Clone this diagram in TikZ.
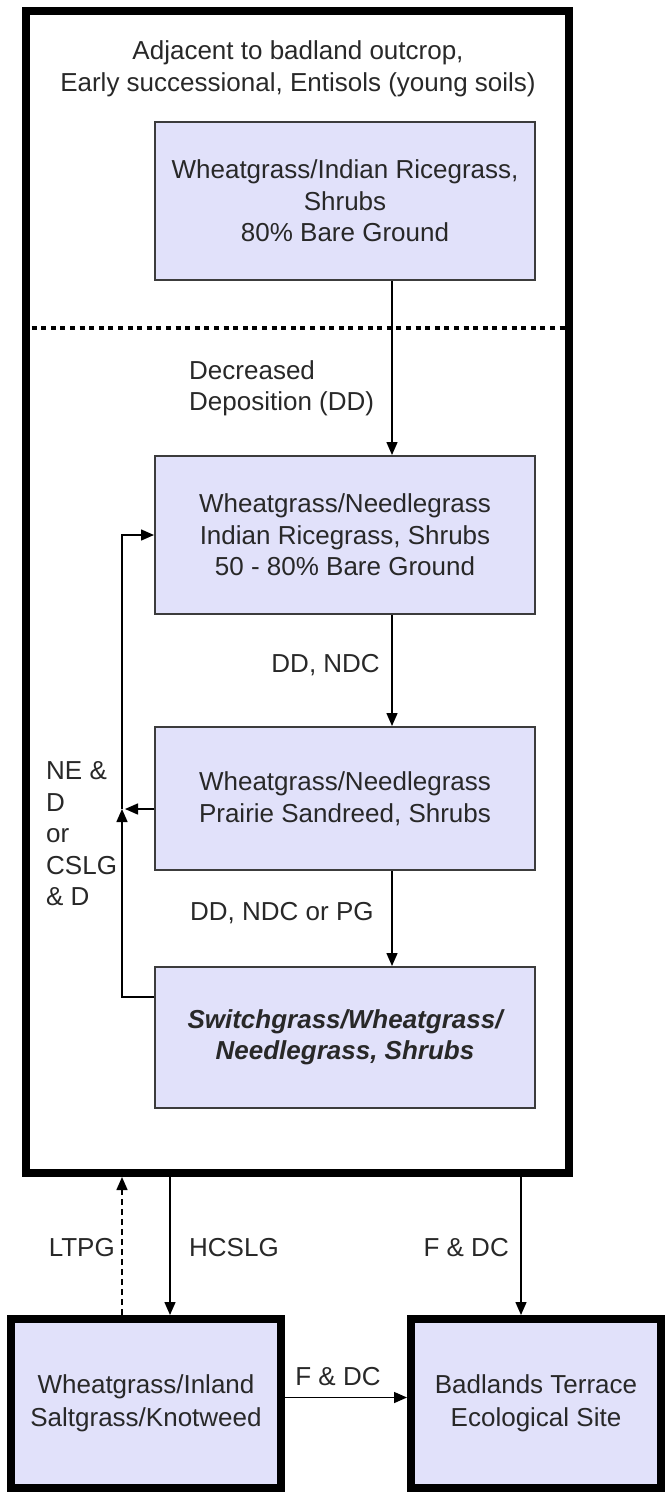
\documentclass[tikz,border=0pt]{standalone}
\usepackage{fontspec}
\setmainfont{Liberation Sans}
\usetikzlibrary{arrows.meta}
\definecolor{lavande}{RGB}{225,225,250}
\definecolor{bord}{RGB}{60,60,60}
\definecolor{texte}{RGB}{40,40,40}

\begin{document}
\begin{tikzpicture}[x=1pt,y=-1pt]
\tikzset{boite/.style={draw=bord, line width=2pt, fill=lavande, minimum width=380pt, align=center, text=texte, font=\fontsize{26}{31.5}\selectfont},
grosboite/.style={draw=black, line width=8pt, fill=lavande, minimum height=169pt, align=center, text=texte, font=\fontsize{26}{33}\selectfont},
etiq/.style={inner sep=0pt, text=texte, font=\fontsize{26}{31.5}\selectfont},
fleche/.style={-{Triangle[length=13pt,width=11pt]}, line width=1.5pt}}
\useasboundingbox (0,0) rectangle (665,1492);
\node[draw, line width=8pt, minimum width=543pt, minimum height=1162pt, inner sep=0pt] (P) at (297.5,592) {};
\node[etiq, align=center] (t0) at (298,69) {Adjacent to badland outcrop,\\[0.5pt]Early successional, Entisols (young soils)};
\node[boite, minimum height=158pt] (S1) at (345,201) {Wheatgrass/Indian Ricegrass,\\Shrubs\\80\% Bare Ground};
\node[boite, minimum height=158pt] (S2) at (345,535) {Wheatgrass/Needlegrass\\Indian Ricegrass, Shrubs\\50 - 80\% Bare Ground};
\node[boite, minimum height=143pt] (S3) at (345,798.5) {Wheatgrass/Needlegrass\\Prairie Sandreed, Shrubs};
\node[boite, minimum height=141pt, font=\fontsize{26}{31.5}\selectfont\bfseries\itshape] (S4) at (345,1037.5) {Switchgrass/Wheatgrass/\\Needlegrass, Shrubs};
\node[grosboite, minimum width=270pt] (L) at (146,1403.5) {Wheatgrass/Inland\\Saltgrass/Knotweed};
\node[grosboite, minimum width=250pt] (R) at (536,1403.5) {Badlands Terrace\\Ecological Site};
\coordinate (dl) at (0,328);
\coordinate (ax) at (392,0);
\coordinate (J) at (122,809);
\coordinate (xl) at (122,0);
\coordinate (xh) at (170,0);
\coordinate (xr) at (521,0);
\draw[line width=4pt, dash pattern=on 5pt off 4.6pt] (P.west |- dl) -- (P.east |- dl);
\draw[fleche] (S1.south -| ax) -- (S2.north -| ax);
\draw[fleche] (S2.south -| ax) -- (S3.north -| ax);
\draw[fleche] (S3.south -| ax) -- (S4.north -| ax);
\draw[fleche] ([yshift=-31pt]S4.north west) -| (J);
\draw[fleche] (J) |- (S2.west);
\draw[fleche] (S3.west |- J) -- ([xshift=3pt]J);
\draw[fleche, dash pattern=on 6pt off 4pt] (L.north -| xl) -- (P.south -| xl);
\draw[fleche] (P.south -| xh) -- (L.north -| xh);
\draw[fleche] (P.south -| xr) -- (R.north -| xr);
\draw[fleche] ([yshift=6pt]L.east) -- ([yshift=6pt]R.west);
\node[etiq, align=left, anchor=west] (l1) at (189,388.5) {Decreased\\Deposition (DD)};
\node[etiq, anchor=east] (l2) at (380,665) {DD, NDC};
\node[etiq, align=left, anchor=west] (l3) at (46,834) {NE \&\\D\\or\\CSLG\\\& D};
\node[etiq, anchor=west] (l4) at (190,913) {DD, NDC or PG};
\node[etiq, anchor=east] (l5) at (115,1248) {LTPG};
\node[etiq, anchor=west] (l6) at (189,1248) {HCSLG};
\node[etiq, anchor=east] (l7) at (509,1248) {F \& DC};
\node[etiq] (l8) at (338,1377) {F \& DC};
\end{tikzpicture}
\end{document}
